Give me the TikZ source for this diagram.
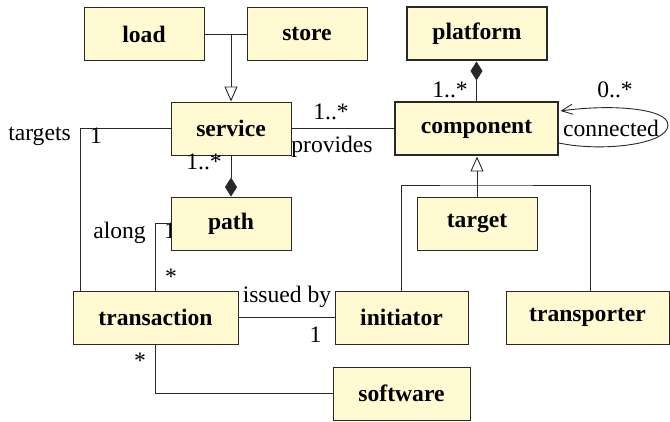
\documentclass[tikz,border=0pt]{standalone}
\usepackage{fontspec}
\setmainfont{Liberation Serif}
\usetikzlibrary{arrows.meta,calc}
\definecolor{boxfill}{RGB}{255,250,210}
\definecolor{linec}{RGB}{40,40,40}
\begin{document}
\begin{tikzpicture}[x=1pt,y=-1pt,
  every node/.style={font=\fontsize{23.6}{28}\selectfont},
  cls/.style={draw=linec, fill=boxfill, line width=0.9pt, inner sep=0pt, minimum height=53pt, font=\fontsize{23.6}{28}\selectfont\bfseries},
  thickcls/.style={cls, line width=2pt},
  conn/.style={draw=linec, line width=0.9pt},
  lab/.style={anchor=base, inner sep=0pt},
  gen/.style={-{Triangle[open, width=13pt, length=15pt]}},
  comp/.style={-{Diamond[width=12pt, length=19pt]}},
  barb/.style={-{Straight Barb[length=11pt, width=10pt]}}
]
\useasboundingbox (0,0) rectangle (670,422);

% classes
\node[cls, minimum width=120pt] (load) at (144,34) {load};
\node[cls, minimum width=120pt] (store) at (307,34) {store};
\node[thickcls, minimum width=140pt] (platform) at (477,34) {platform};
\node[cls, minimum width=120pt] (service) at (231,128.5) {service};
\node[thickcls, minimum width=163pt] (component) at (476.5,129) {component};
\node[lab] (lpath) at (170,239) {1};
\node[cls, minimum width=120pt] (path) at (231,223.5) {path};
\node[cls, minimum width=120pt] (target) at (477,223.5) {target};
\node[cls, minimum width=165pt] (transaction) at (155.5,317.5) {transaction};
\node[cls, minimum width=133pt] (initiator) at (401.5,317.5) {initiator};
\node[cls, minimum width=163pt] (transporter) at (587.5,317.5) {transporter};
\node[cls, minimum width=137pt] (software) at (401.5,393.5) {software};

% connectors
\coordinate (j) at (service.north |- load.east);
\draw[conn] (load.east) -- (store.west);
\draw[conn, gen] (j) -- (service.north);
\draw[conn, comp] (component.north) -- (component.north |- platform.south);
\draw[conn] (service.east) -- (service.east -| component.west);
\draw[conn, comp] (service.south) -- (path.north);
\draw[conn] (service.west) -| ([xshift=8pt]transaction.north west);
\draw[conn] (path.west) -| (transaction.north);
\draw[conn] (transaction.east) -- (initiator.west);
\draw[conn] (transaction.south) |- (software.west);
\coordinate (bar) at (477,185);
\draw[conn, gen] (target.north) -- (target.north |- component.south);
\draw[conn] (initiator.north) |- (bar) -| ([xshift=3pt]transporter.north);
\coordinate (lo) at ($(component.east)+(0,14)$);
\coordinate (hi) at ($(component.east)+(1.5,-18)$);
\draw[conn, barb] (lo) .. controls (600,152) and (668,145) .. (668,125) .. controls (668,108) and (610,104) .. (hi);

% labels
\node[lab] at (450,98) {1..*};
\node[lab] at (615,98) {0..*};
\node[lab] at (611,137) {connected};
\node[lab] at (331,120) {1..*};
\node[lab] at (332,153) {provides};
\node[lab] at (204,170) {1..*};
\node[lab] at (39.5,141) {targets};
\node[lab] at (96,144) {1};
\node[lab] at (119.5,239) {along};
\node[lab] at (171,285) {*};
\node[lab] at (287,303) {issued by};
\node[lab] at (315.5,343) {1};
\node[lab] at (140,369) {*};
\end{tikzpicture}
\end{document}
